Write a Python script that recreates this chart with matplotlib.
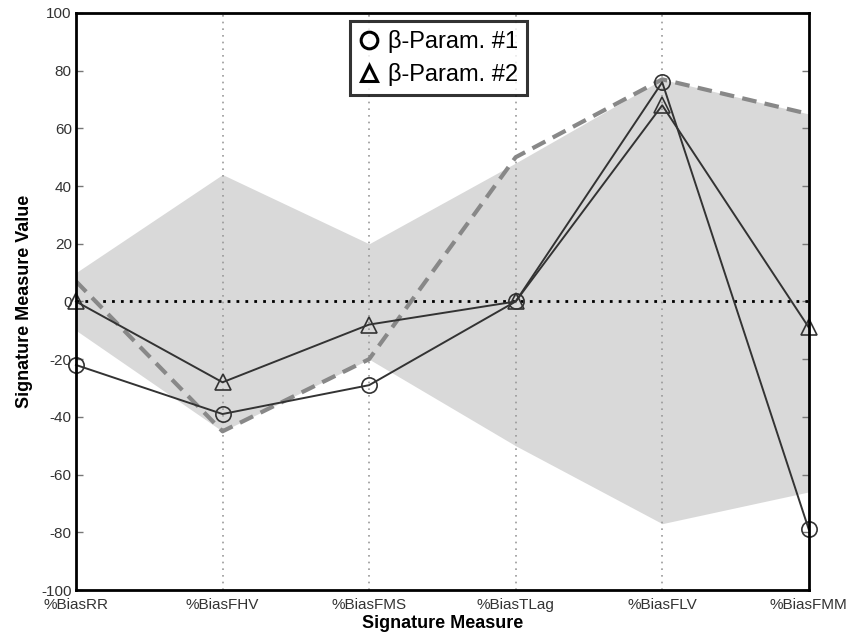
import numpy as np
import matplotlib
matplotlib.use("Agg")
import matplotlib.pyplot as plt

plt.rcParams['font.family'] = ['Liberation Sans', 'DejaVu Sans']

measures = ['%BiasRR', '%BiasFHV', '%BiasFMS', '%BiasTLag', '%BiasFLV', '%BiasFMM']
band_upper = [10, 44, 20, 48, 77, 65]
band_lower = [-10, -45, -20, -50, -77, -66]
dashed_ref = [7, -45, -20, 50, 77, 65]
param1 = [-22, -39, -29, 0, 76, -79]
param2 = [0, -28, -8, 0, 68, -9]
yticks = [-100, -80, -60, -40, -20, 0, 20, 40, 60, 80, 100]

x = np.arange(len(measures))

fig = plt.figure(figsize=(8.46, 6.36), dpi=100)
ax = fig.add_axes([0.0898, 0.0723, 0.8662, 0.9073])

ax.fill_between(x, band_lower, band_upper, color='#d9d9d9', linewidth=0, zorder=1)
for xi in x[1:-1]:
    ax.axvline(xi, color='#999999', linestyle=(0, (1, 3)), linewidth=1.2, zorder=2)
ax.axhline(0, color='black', linestyle=(0, (1, 2.2)), linewidth=2, zorder=2)

ax.plot(x, dashed_ref, color='#888888', linestyle=(0, (3.5, 2)), linewidth=3, zorder=3)
ax.plot(x, param1, color='#333333', linewidth=1.4, marker='o', markersize=11,
        markerfacecolor='none', markeredgecolor='#333333', markeredgewidth=1.2,
        zorder=4, clip_on=False)
ax.plot(x, param2, color='#333333', linewidth=1.4, marker='^', markersize=11,
        markerfacecolor='none', markeredgecolor='#333333', markeredgewidth=1.2,
        zorder=4, clip_on=False)

ax.set_xlim(0, 5)
ax.set_ylim(-100, 100)
ax.set_xticks(x)
ax.set_xticklabels(measures, fontsize=11, color='#333333')
ax.set_yticks(yticks)
ax.set_yticklabels([str(v) for v in yticks], fontsize=11, color='#333333')
ax.tick_params(axis='both', direction='in', length=5, width=1, color='#777777',
               right=True, top=True, pad=3)
ax.tick_params(axis='x', length=0, pad=6)

for s in ax.spines.values():
    s.set_linewidth(2)
    s.set_color('black')
    s.set_zorder(5)

ax.set_xlabel('Signature Measure', fontsize=13, fontweight='bold', labelpad=2)
ax.set_ylabel('Signature Measure Value', fontsize=13, fontweight='bold', labelpad=6)

h1 = ax.plot([], [], linestyle='none', marker='o', markersize=12, markerfacecolor='none',
             markeredgecolor='black', markeredgewidth=2.2)[0]
h2 = ax.plot([], [], linestyle='none', marker='^', markersize=12, markerfacecolor='none',
             markeredgecolor='black', markeredgewidth=2.2)[0]
leg = ax.legend([h1, h2], ['\u03b2-Param. #1', '\u03b2-Param. #2'], loc='upper center',
                bbox_to_anchor=(0.495, 0.986), fontsize=17, frameon=True, fancybox=False,
                handlelength=0.8, handletextpad=0.4, borderpad=0.4, labelspacing=0.4,
                borderaxespad=0)
leg.get_frame().set_edgecolor('black')
leg.get_frame().set_linewidth(2.2)
leg.set_zorder(6)

fig.savefig('out.png', dpi=100)
